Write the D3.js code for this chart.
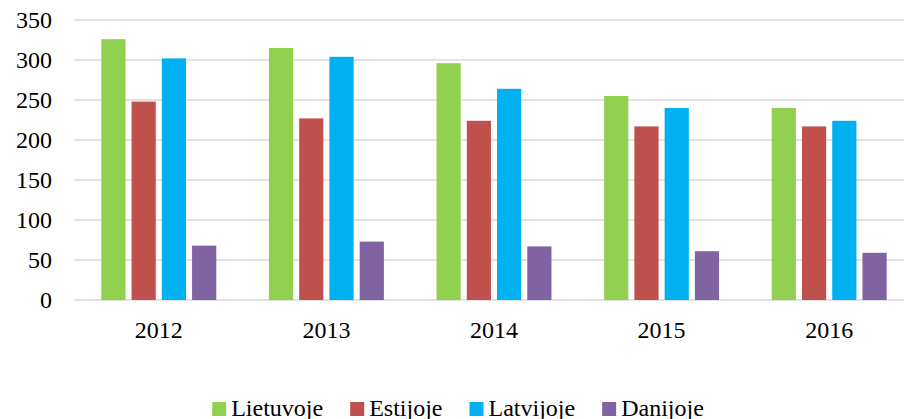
<!DOCTYPE html>
<html>
<head>
<meta charset="utf-8">
<script src="https://cdn.jsdelivr.net/npm/d3@7"></script>
<style>
  body { margin: 0; background: #fff; }
  svg { display: block; font-family: "Liberation Serif", "DejaVu Serif", serif; }
</style>
</head>
<body>
<div id="chart"></div>
<script>
var years = ["2012", "2013", "2014", "2015", "2016"];
var seriesNames = ["Lietuvoje", "Estijoje", "Latvijoje", "Danijoje"];
var lietuvoje = [326, 315, 296, 255, 240];
var estijoje = [248, 227, 224, 217, 217];
var latvijoje = [302, 304, 264, 240, 224];
var danijoje = [68, 73, 67, 61, 59];
var yTicks = [0, 50, 100, 150, 200, 250, 300, 350];
var colors = ["#92d050", "#c0504d", "#00b0f0", "#8064a2"];

function init() {
    var w = 904, h = 419;
    var margin = { top: 20, right: -9, bottom: 119, left: 75 };
    var values = [lietuvoje, estijoje, latvijoje, danijoje];

    var svg = d3.select("#chart").append("svg")
        .attr("width", w)
        .attr("height", h)
        .attr("viewBox", [0, 0, w, h]);

    var x0 = d3.scaleBand().domain(years).range([margin.left, w - margin.right]);
    var x1 = d3.scaleBand().domain(seriesNames).range([0, x0.bandwidth()])
        .paddingInner(0.2).paddingOuter(0.87);
    var y = d3.scaleLinear().domain([0, 350]).range([h - margin.bottom, margin.top]);

    // gridlines
    svg.append("g").selectAll("line")
        .data(yTicks)
        .enter().append("line")
        .attr("x1", margin.left)
        .attr("x2", w)
        .attr("y1", d => y(d))
        .attr("y2", d => y(d))
        .attr("stroke", "#d9d9d9")
        .attr("stroke-width", 1.5);

    // y labels
    svg.append("g").selectAll("text")
        .data(yTicks)
        .enter().append("text")
        .attr("x", 52)
        .attr("y", d => y(d))
        .attr("dy", "0.34em")
        .attr("text-anchor", "end")
        .attr("font-size", 24)
        .attr("fill", "#000")
        .text(d => d);

    // bars
    var groups = svg.append("g").selectAll("g")
        .data(years)
        .enter().append("g")
        .attr("transform", d => `translate(${x0(d)},0)`);

    groups.selectAll("rect")
        .data((d, i) => seriesNames.map((s, j) => ({ s: s, v: values[j][i], c: colors[j] })))
        .enter().append("rect")
        .attr("x", d => x1(d.s))
        .attr("y", d => y(d.v))
        .attr("width", x1.bandwidth())
        .attr("height", d => y(0) - y(d.v))
        .attr("fill", d => d.c);

    // x labels
    svg.append("g").selectAll("text")
        .data(years)
        .enter().append("text")
        .attr("x", d => x0(d) + x0.bandwidth() / 2)
        .attr("y", 338)
        .attr("text-anchor", "middle")
        .attr("font-size", 24)
        .attr("fill", "#000")
        .text(d => d);

    // legend
    var legend = svg.append("g");
    var items = legend.selectAll("g")
        .data(seriesNames)
        .enter().append("g");
    items.append("rect")
        .attr("width", 14)
        .attr("height", 14)
        .attr("y", 402)
        .attr("fill", (d, i) => colors[i]);
    items.append("text")
        .attr("x", 19)
        .attr("y", 415.5)
        .attr("font-size", 24)
        .attr("fill", "#000")
        .text(d => d);

    var pos = 0, offsets = [];
    items.each(function() {
        offsets.push(pos);
        var tw = d3.select(this).select("text").node().getComputedTextLength();
        pos += 19 + tw + 27;
    });
    var total = pos - 27;
    var start = 458 - total / 2;
    items.attr("transform", (d, i) => `translate(${start + offsets[i]},0)`);
}

window.onload = init;
</script>
</body>
</html>
